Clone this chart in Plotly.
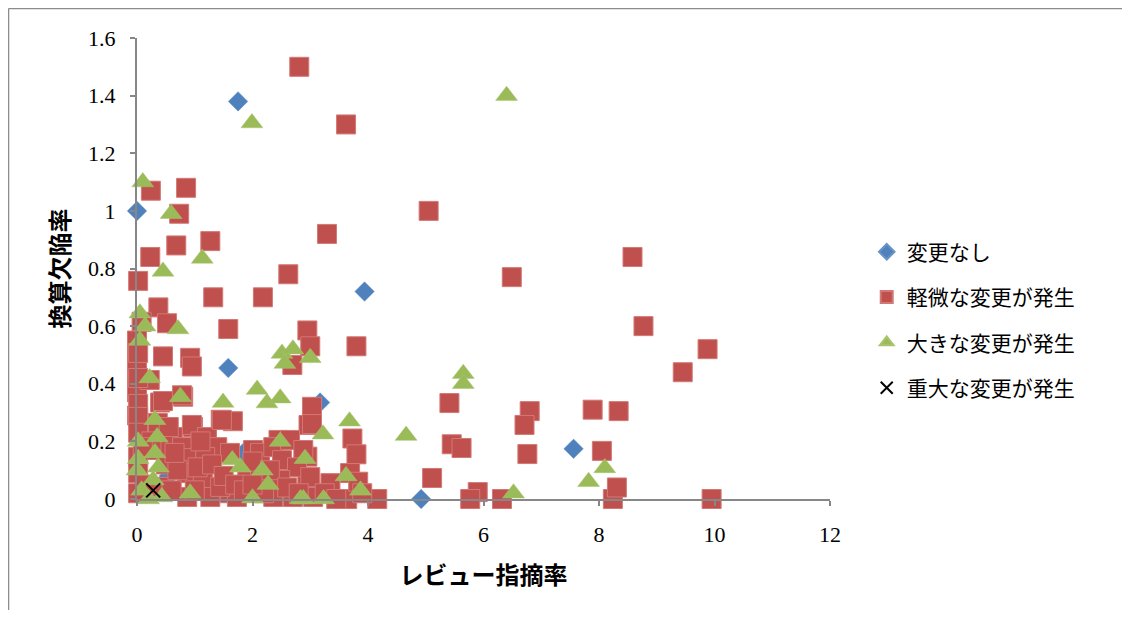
import plotly.graph_objects as go

# ---- data ----
none_x = [0.0, 1.75, 3.94, 1.58, 3.17, 7.56, 4.92, 1.84, 0.55]
none_y = [1.0, 1.38, 0.72, 0.455, 0.335, 0.174, 0.0, 0.16, 0.08]

minor_x = [2.81, 3.62, 0.24, 0.85, 0.73, 5.05, 3.29, 1.27, 0.68, 0.23, 8.58, 2.62, 6.49, 0.02,
           1.32, 2.18, 0.37, 8.77, 1.58, 2.95, 0.52, 0.08, 3.0, 3.8, 9.88, 0.0, 0.0, 0.45, 0.92,
           0.95, 0.0, 2.69, 9.45, 0.0, 0.0, 0.8, 0.4, 0.22, 5.41, 6.8, 7.89, 8.34, 3.03, 0.0,
           0.97, 6.71, 1.21, 3.73, 2.45, 5.45, 5.62, 8.05, 6.76, 3.8, 2.97, 1.45, 1.66, 5.11,
           5.9, 5.77, 4.16, 8.24, 8.31, 9.95, 3.64, 6.32, 3.69, 3.83, 3.35, 2.95, 2.95,
           0.02, 0.02, 0.78, 0.45, 0.02, 0.02, 0.36, 0.95, 0.62, 1.21, 1.47, 0.02, 0.78, 0.35,
           1.39, 0.95, 1.18, 1.61, 2.01, 2.13, 2.36, 2.65, 2.88, 2.51, 2.77, 3.0, 0.02, 0.02,
           0.02, 0.4, 0.87, 1.14, 0.87, 1.27, 1.61, 1.91, 2.13, 2.48, 2.36, 1.73, 2.7, 3.05,
           1.44, 3.03, 0.15, 0.5, 0.6, 0.7, 1.0, 1.05, 1.3, 1.5, 1.7, 1.85, 2.0, 2.2, 2.3, 2.6,
           2.8, 0.25, 0.55, 0.1, 0.65, 1.1, 2.0, 3.25, 3.45, 3.9]
minor_y = [1.50, 1.30, 1.07, 1.08, 0.99, 1.00, 0.92, 0.895, 0.88, 0.84, 0.84, 0.78, 0.77, 0.757,
           0.70, 0.70, 0.665, 0.60, 0.59, 0.585, 0.61, 0.615, 0.53, 0.53, 0.52, 0.55, 0.505, 0.495, 0.49,
           0.46, 0.465, 0.465, 0.44, 0.40, 0.37, 0.355, 0.335, 0.413, 0.333, 0.305, 0.31, 0.305, 0.32, 0.29,
           0.25, 0.257, 0.21, 0.21, 0.205, 0.19, 0.177, 0.167, 0.156, 0.155, 0.257, 0.275, 0.27, 0.073,
           0.024, 0.0, 0.0, 0.0, 0.04, 0.0, 0.0, 0.0, 0.09, 0.06, 0.055, 0.065, 0.147,
           0.507, 0.42, 0.36, 0.34, 0.33, 0.285, 0.264, 0.257, 0.215, 0.215, 0.274, 0.23, 0.18, 0.17,
           0.18, 0.142, 0.146, 0.16, 0.17, 0.16, 0.18, 0.205, 0.17, 0.135, 0.11, 0.076, 0.146, 0.09,
           0.02, 0.042, 0.09, 0.066, 0.007, 0.007, 0.02, 0.10, 0.066, 0.066, 0.007, 0.007, 0.007, 0.007,
           0.042, 0.26, 0.05, 0.12, 0.03, 0.10, 0.03, 0.11, 0.12, 0.08, 0.05, 0.03, 0.13, 0.02, 0.10, 0.04,
           0.02, 0.20, 0.25, 0.18, 0.16, 0.20, 0.05, 0.02, 0.0, 0.02]

major_x = [6.4, 1.99, 0.1, 0.59, 1.13, 0.45, 0.05, 0.14, 0.71, 0.05, 2.51, 2.7, 2.56, 3.0, 5.65,
           5.65, 0.22, 0.75, 2.08, 1.49, 2.25, 2.48, 4.66, 3.22, 3.68, 3.62, 3.87, 2.88, 3.23,
           6.52, 7.82, 8.1, 0.31, 0.02, 0.35, 0.31, 0.02, 0.0, 0.37, 0.28, 0.08, 0.43, 0.2, 0.92,
           1.65, 2.48, 2.91, 1.79, 2.17, 2.27, 2.0, 2.83]
major_y = [1.40, 1.305, 1.10, 0.99, 0.835, 0.79, 0.645, 0.60, 0.59, 0.55, 0.505, 0.52, 0.47, 0.49, 0.435,
           0.40, 0.42, 0.355, 0.38, 0.335, 0.333, 0.35, 0.22, 0.225, 0.27, 0.08, 0.03, 0.0, 0.0,
           0.02, 0.06, 0.108, 0.275, 0.2, 0.215, 0.16, 0.14, 0.1, 0.11, 0.066, 0.03, 0.007, 0.0, 0.02,
           0.135, 0.2, 0.14, 0.11, 0.1, 0.05, 0.003, 0.0]

severe_x = [0.28]
severe_y = [0.03]

names = ["変更なし", "軽微な変更が発生", "大きな変更が発生", "重大な変更が発生"]
x_ticks = [0, 2, 4, 6, 8, 10, 12]
y_ticks = [0, 0.2, 0.4, 0.6, 0.8, 1.0, 1.2, 1.4, 1.6]
y_tick_text = ["0", "0.2", "0.4", "0.6", "0.8", "1", "1.2", "1.4", "1.6"]

fig = go.Figure()
fig.add_trace(go.Scatter(x=none_x, y=none_y, mode="markers", name=names[0], legendgroup="a",
                         cliponaxis=False,
                         marker=dict(symbol="diamond", size=15, color="#4F81BD",
                                     line=dict(width=0.5, color="#6A94C8"))))
fig.add_trace(go.Scatter(x=minor_x, y=minor_y, mode="markers", name=names[1], legendgroup="b",
                         cliponaxis=False,
                         marker=dict(symbol="square", size=19, color="#C0504D",
                                     line=dict(width=1, color="#D27976"))))
fig.add_trace(go.Scatter(x=major_x, y=major_y, mode="markers", name=names[2], legendgroup="c",
                         cliponaxis=False,
                         marker=dict(symbol="triangle-up", size=19, color="#9BBB59",
                                     line=dict(width=0.5, color="#A9C46E"))))
fig.add_trace(go.Scatter(x=severe_x, y=severe_y, mode="markers", name=names[3], legendgroup="d",
                         cliponaxis=False,
                         marker=dict(symbol="x-thin-open", size=14, color="#000000",
                                     line=dict(width=2, color="#000000"))))

axis_common = dict(showgrid=False, zeroline=False, showline=True, linecolor="#878787",
                   linewidth=2, ticks="outside", tickcolor="#878787", ticklen=5, tickwidth=1.5,
                   tickfont=dict(family="Liberation Serif", size=22, color="#000000"))

fig.update_xaxes(range=[0, 12], tickvals=x_ticks, ticktext=[str(v) for v in x_ticks],
                 ticklabelstandoff=10,
                 title=dict(text="<b>レビュー指摘率</b>", standoff=21,
                            font=dict(family="Noto Sans CJK JP", size=24, color="#000000")),
                 **axis_common)
fig.update_yaxes(range=[0, 1.6], tickvals=y_ticks, ticktext=y_tick_text,
                 ticklabelstandoff=10,
                 title=dict(text="<b>換算欠陥率</b>", standoff=12,
                            font=dict(family="Noto Sans CJK JP", size=24, color="#000000")),
                 **axis_common)

# outer chart-area frame (only its left and top edges fall inside the picture)
fig.add_shape(type="line", xref="paper", yref="paper", x0=-0.1854, y0=-0.3, x1=-0.1854, y1=1.064,
              line=dict(color="#8C8C8C", width=1.5), layer="below")
fig.add_shape(type="line", xref="paper", yref="paper", x0=-0.1854, y0=1.064, x1=1.6, y1=1.064,
              line=dict(color="#8C8C8C", width=1.5), layer="below")

fig.update_layout(
    width=1114, height=602,
    margin=dict(l=129, r=292, t=30, b=111),
    paper_bgcolor="#FFFFFF", plot_bgcolor="#FFFFFF",
    showlegend=True,
    legend=dict(x=1.053, y=0.58, xanchor="left", yanchor="top", tracegroupgap=15,
                font=dict(family="Noto Sans CJK JP", size=21, color="#000000"),
                bgcolor="rgba(0,0,0,0)", itemsizing="constant"),
)

fig.write_html("out.html")
